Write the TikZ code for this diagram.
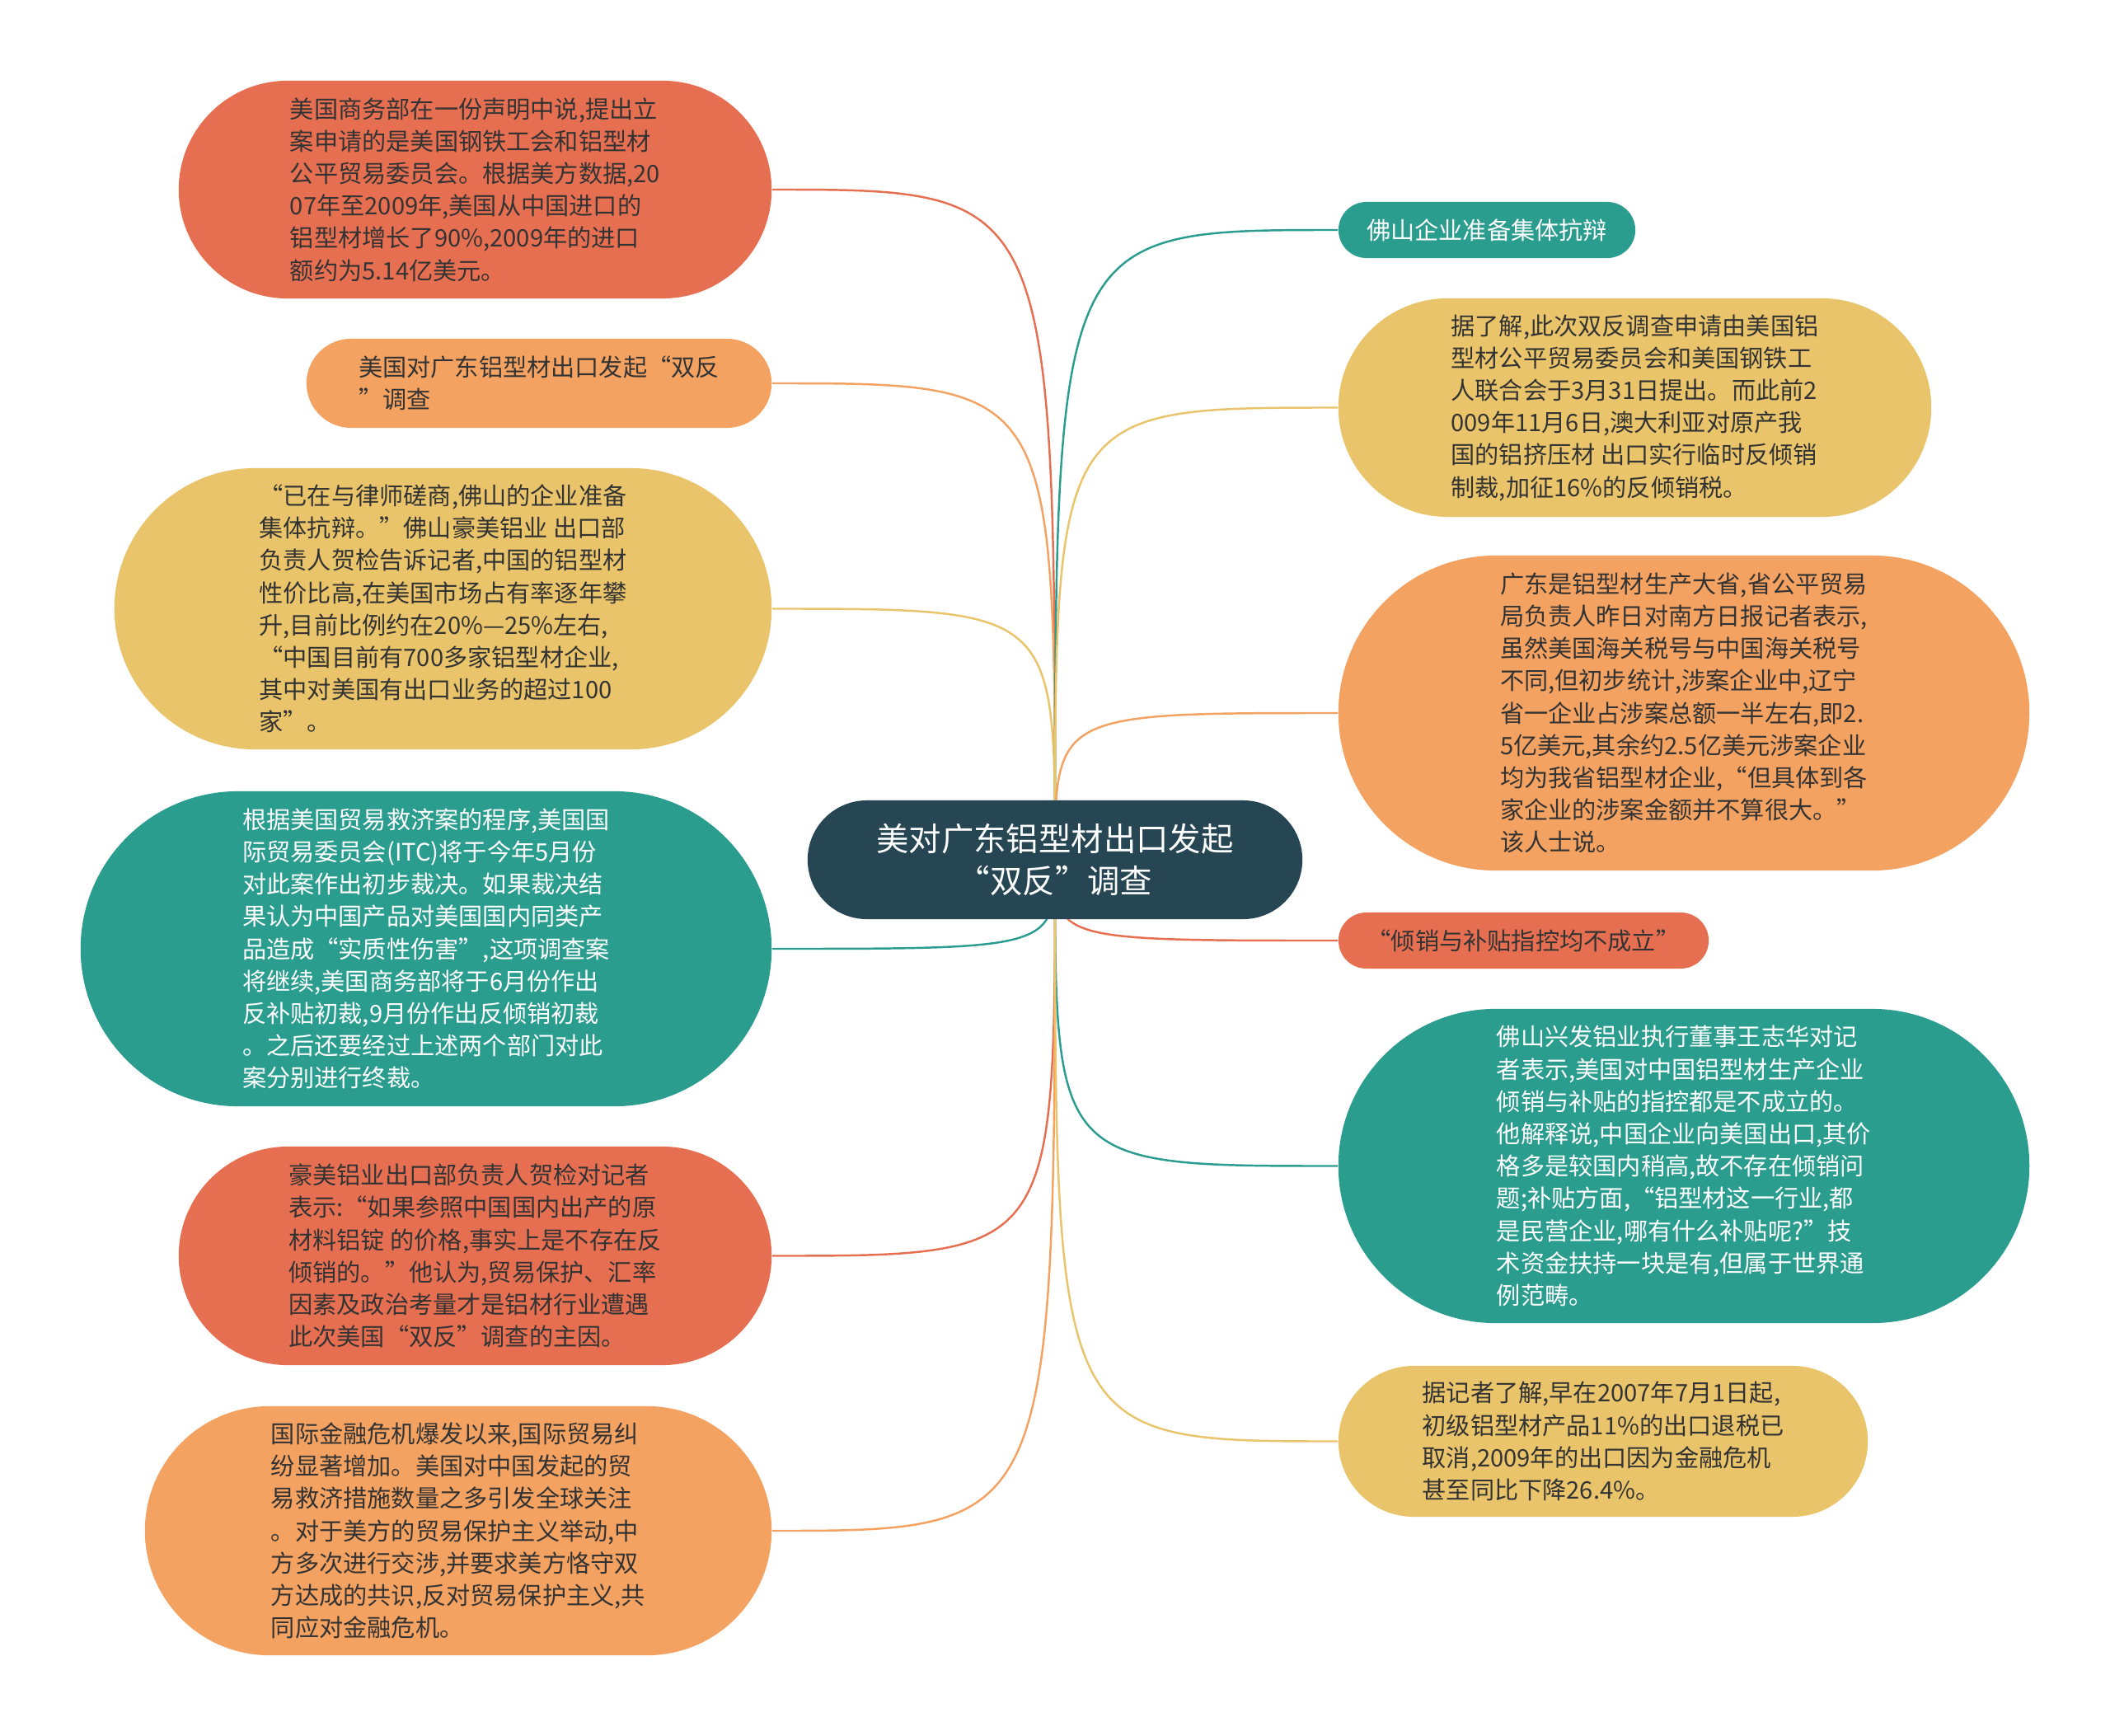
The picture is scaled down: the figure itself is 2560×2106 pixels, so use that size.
\documentclass[tikz,border=0pt]{standalone}
\usepackage{fontspec}
\setmainfont{Noto Sans CJK SC}
\usepackage{xcolor}
\usepackage{tikz}
\usetikzlibrary{backgrounds}
\definecolor{cDark}{HTML}{264653}
\definecolor{cTeal}{HTML}{2A9D8F}
\definecolor{cYellow}{HTML}{E9C46A}
\definecolor{cOrange}{HTML}{F4A261}
\definecolor{cRed}{HTML}{E76F51}
\definecolor{cText}{HTML}{333333}
\tikzstyle{topic} = [rectangle, rounded corners=0.72cm, minimum width=6cm, minimum height=1.44cm, fill=cDark, text=white, align=center, font=\fontsize{11.2pt}{14.4pt}\selectfont]
\tikzstyle{leaf} = [rectangle, inner sep=0pt, align=left, text=cText, font=\fontsize{8.3pt}{11.15pt}\selectfont]
\tikzstyle{link} = [line width=0.7pt]
\tikzset{pill/.style 2 args={minimum width=#1, minimum height=#2, rounded corners=#2/2}}

\begin{document}
\begin{tikzpicture}[x=0.01cm, y=-0.01cm]
		\useasboundingbox (0,0) rectangle (2560,2106);
		%中心主题
		\node (root) [topic] at (1280,1043) {美对广东铝型材出口发起\\“双反”调查};
		
		%左侧分支
		\node (l1) [leaf, pill={7.19cm}{2.64cm}, fill=cRed] at (576.5,230) {美国商务部在一份声明中说,提出立\\
案申请的是美国钢铁工会和铝型材\\
公平贸易委员会。根据美方数据,20\\
07年至2009年,美国从中国进口的\\
铝型材增长了90\%,2009年的进口\\
额约为5.14亿美元。};
		\node (l2) [leaf, pill={5.64cm}{1.08cm}, fill=cOrange] at (654,465) {美国对广东铝型材出口发起“双反\\
”调查};
		\node (l3) [leaf, pill={7.97cm}{3.41cm}, fill=cYellow] at (537.5,738.5) {“已在与律师磋商,佛山的企业准备\\
集体抗辩。”佛山豪美铝业 出口部\\
负责人贺检告诉记者,中国的铝型材\\
性价比高,在美国市场占有率逐年攀\\
升,目前比例约在20\%—25\%左右,\\
“中国目前有700多家铝型材企业,\\
其中对美国有出口业务的超过100\\
家”。};
		\node (l4) [leaf, pill={8.38cm}{3.82cm}, fill=cTeal, text=white] at (517,1151) {根据美国贸易救济案的程序,美国国\\
际贸易委员会(ITC)将于今年5月份\\
对此案作出初步裁决。如果裁决结\\
果认为中国产品对美国国内同类产\\
品造成“实质性伤害”,这项调查案\\
将继续,美国商务部将于6月份作出\\
反补贴初裁,9月份作出反倾销初裁\\
。之后还要经过上述两个部门对此\\
案分别进行终裁。};
		\node (l5) [leaf, pill={7.19cm}{2.65cm}, fill=cRed] at (576.5,1523.5) {豪美铝业出口部负责人贺检对记者\\
表示:“如果参照中国国内出产的原\\
材料铝锭 的价格,事实上是不存在反\\
倾销的。”他认为,贸易保护、汇率\\
因素及政治考量才是铝材行业遭遇\\
此次美国“双反”调查的主因。};
		\node (l6) [leaf, pill={7.6cm}{3.02cm}, fill=cOrange] at (556,1857) {国际金融危机爆发以来,国际贸易纠\\
纷显著增加。美国对中国发起的贸\\
易救济措施数量之多引发全球关注\\
。对于美方的贸易保护主义举动,中\\
方多次进行交涉,并要求美方恪守双\\
方达成的共识,反对贸易保护主义,共\\
同应对金融危机。};
		
		%右侧分支
		\node (r1) [leaf, pill={3.6cm}{0.68cm}, fill=cTeal, text=white] at (1804,279) {佛山企业准备集体抗辩};
		\node (r2) [leaf, pill={7.19cm}{2.65cm}, fill=cYellow] at (1983.5,494.5) {据了解,此次双反调查申请由美国铝\\
型材公平贸易委员会和美国钢铁工\\
人联合会于3月31日提出。而此前2\\
009年11月6日,澳大利亚对原产我\\
国的铝挤压材 出口实行临时反倾销\\
制裁,加征16\%的反倾销税。};
		\node (r3) [leaf, pill={8.38cm}{3.82cm}, fill=cOrange] at (2043,865) {广东是铝型材生产大省,省公平贸易\\
局负责人昨日对南方日报记者表示,\\
虽然美国海关税号与中国海关税号\\
不同,但初步统计,涉案企业中,辽宁\\
省一企业占涉案总额一半左右,即2.\\
5亿美元,其余约2.5亿美元涉案企业\\
均为我省铝型材企业,“但具体到各\\
家企业的涉案金额并不算很大。”\\
该人士说。};
		\node (r4) [leaf, pill={4.49cm}{0.68cm}, fill=cRed] at (1848.5,1141) {“倾销与补贴指控均不成立”};
		\node (r5) [leaf, pill={8.38cm}{3.81cm}, fill=cTeal, text=white] at (2043,1414.5) {佛山兴发铝业执行董事王志华对记\\
者表示,美国对中国铝型材生产企业\\
倾销与补贴的指控都是不成立的。\\
他解释说,中国企业向美国出口,其价\\
格多是较国内稍高,故不存在倾销问\\
题;补贴方面,“铝型材这一行业,都\\
是民营企业,哪有什么补贴呢?”技\\
术资金扶持一块是有,但属于世界通\\
例范畴。};
		\node (r6) [leaf, pill={6.42cm}{1.83cm}, fill=cYellow] at (1945,1748.5) {据记者了解,早在2007年7月1日起,\\
初级铝型材产品11\%的出口退税已\\
取消,2009年的出口因为金融危机\\
甚至同比下降26.4\%。};
		
		%连接线
		\begin{scope}[on background layer]
		\fill [white] (0,0) rectangle (2560,2106);
		\draw [link, cRed] (root.center) .. controls (root.center |- l1.east) .. (l1.east);
		\draw [link, cOrange] (root.center) .. controls (root.center |- l2.east) .. (l2.east);
		\draw [link, cYellow] (root.center) .. controls (root.center |- l3.east) .. (l3.east);
		\draw [link, cTeal] (root.center) .. controls (root.center |- l4.east) .. (l4.east);
		\draw [link, cRed] (root.center) .. controls (root.center |- l5.east) .. (l5.east);
		\draw [link, cOrange] (root.center) .. controls (root.center |- l6.east) .. (l6.east);
		\draw [link, cTeal] (root.center) .. controls (root.center |- r1.west) .. (r1.west);
		\draw [link, cYellow] (root.center) .. controls (root.center |- r2.west) .. (r2.west);
		\draw [link, cOrange] (root.center) .. controls (root.center |- r3.west) .. (r3.west);
		\draw [link, cRed] (root.center) .. controls (root.center |- r4.west) .. (r4.west);
		\draw [link, cTeal] (root.center) .. controls (root.center |- r5.west) .. (r5.west);
		\draw [link, cYellow] (root.center) .. controls (root.center |- r6.west) .. (r6.west);
		\end{scope}
		
	\end{tikzpicture}
\end{document}
